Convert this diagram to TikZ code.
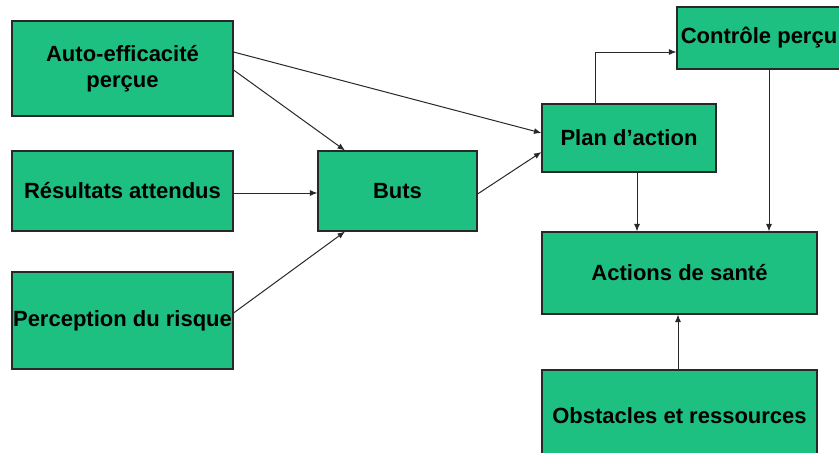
\documentclass[tikz,border=0pt]{standalone}
\usepackage{fontspec}
\setmainfont{Liberation Sans}
\usetikzlibrary{arrows.meta}
\definecolor{boxgreen}{RGB}{30,192,130}
\definecolor{edge}{RGB}{40,40,40}
\tikzset{
  box/.style={draw=edge, line width=1.1pt, fill=boxgreen, inner sep=0pt,
    align=center, font=\fontsize{22}{26}\selectfont\bfseries},
  conn/.style={draw=edge, line width=1pt, -{Latex[length=7.5pt,width=6pt]}}
}
\begin{document}
\begin{tikzpicture}[x=1pt,y=-1pt]
\useasboundingbox (0,0) rectangle (839,453);
\fill[white] (0,0) rectangle (839,453);
\clip (0,0) rectangle (839,453);
\node[box, minimum width=221pt, minimum height=95pt] (auto) at (122.5,68.5) {Auto-efficacité\\perçue};
\node[box, minimum width=221pt, minimum height=80pt] (res) at (122.5,191) {Résultats attendus};
\node[box, minimum width=221pt, minimum height=97pt] (perc) at (122.5,320.5) {Perception du risque};
\node[box, minimum width=159pt, minimum height=80pt] (buts) at (397.5,191) {Buts};
\node[box, minimum width=174pt, minimum height=68pt] (plan) at (629,138) {Plan d'action};
\node[box, minimum width=164pt, minimum height=62pt] (ctrl) at (759,38) {Contrôle perçu};
\node[box, minimum width=275pt, minimum height=82pt] (act) at (679.5,273) {Actions de santé};
\node[box, minimum width=275pt, minimum height=92pt] (obst) at (679.5,416) {Obstacles et ressources};
\draw[conn] ([yshift=16.5pt]auto.east) -- ([yshift=5pt]plan.west);
\draw[conn] ([yshift=-1.5pt]auto.east) -- ([xshift=-52.5pt]buts.north);
\draw[conn] ([yshift=-2pt]res.east) -- ([yshift=-2pt]buts.west);
\draw[conn] ([yshift=7.5pt]perc.east) -- ([xshift=-52.5pt]buts.south);
\draw[conn] ([yshift=-3pt]buts.east) -- ([yshift=-14pt]plan.west);
\draw[conn] ([xshift=-34pt]plan.north) |- ([yshift=-14pt]ctrl.west);
\draw[conn] ([xshift=8pt]plan.south) -- ([xshift=8pt]plan.south |- act.north);
\draw[conn] ([xshift=10pt]ctrl.south) -- ([xshift=10pt]ctrl.south |- act.north);
\draw[conn] ([xshift=-1.5pt]obst.north) -- ([xshift=-1.5pt]act.south);
\end{tikzpicture}
\end{document}
